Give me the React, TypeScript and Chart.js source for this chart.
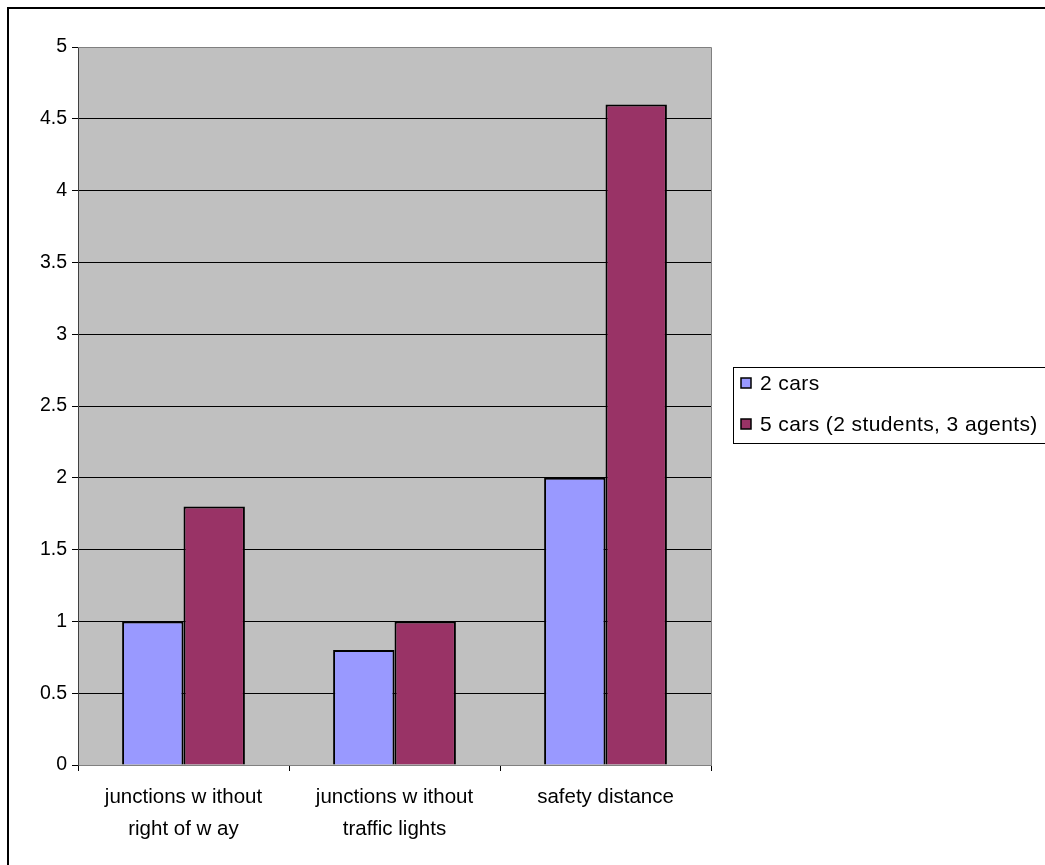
import React, { useEffect, useRef } from "react";
import { Chart, registerables } from "chart.js";

Chart.register(...registerables);

const categories: string[][] = [
  ["junctions w ithout", "right of w ay"],
  ["junctions w ithout", "traffic lights"],
  ["safety distance"],
];
const seriesNames = ["2 cars", "5 cars (2 students, 3 agents)"];
const twoCars = [1, 0.8, 2];
const fiveCars = [1.8, 1, 4.6];
const seriesColors = ["#9999FF", "#993366"];

const FONT = "'Liberation Sans', Arial, sans-serif";

const framePlugin = {
  id: "frameAndLegend",
  beforeDraw(chart: any) {
    const { ctx, chartArea } = chart;
    ctx.save();
    ctx.fillStyle = "#ffffff";
    ctx.fillRect(0, 0, chart.width, chart.height);
    ctx.fillStyle = "#C0C0C0";
    ctx.fillRect(chartArea.left, chartArea.top, chartArea.right - chartArea.left, chartArea.bottom - chartArea.top);
    ctx.restore();
  },
  afterDraw(chart: any) {
    const { ctx, chartArea } = chart;
    ctx.save();
    // plot border (right and top)
    ctx.strokeStyle = "#808080";
    ctx.lineWidth = 1;
    ctx.beginPath();
    ctx.moveTo(chartArea.left, chartArea.top + 0.5);
    ctx.lineTo(chartArea.right + 0.5, chartArea.top + 0.5);
    ctx.lineTo(chartArea.right + 0.5, chartArea.bottom);
    ctx.stroke();
    // outer frame
    ctx.strokeStyle = "#000000";
    ctx.lineWidth = 2;
    ctx.beginPath();
    ctx.moveTo(8, chart.height + 5);
    ctx.lineTo(8, 8);
    ctx.lineTo(chart.width + 5, 8);
    ctx.stroke();
    // legend
    ctx.lineWidth = 1;
    ctx.strokeRect(733.5, 367.5, 400, 76);
    const ys = [383, 424];
    chart.data.datasets.forEach((ds: any, i: number) => {
      ctx.fillStyle = ds.backgroundColor;
      ctx.fillRect(741, ys[i] - 5, 10, 10);
      ctx.strokeStyle = "#000";
      ctx.lineWidth = 1.5;
      ctx.strokeRect(741, ys[i] - 5, 10, 10);
      ctx.fillStyle = "#000";
      ctx.font = `21px ${FONT}`;
      (ctx as any).letterSpacing = "0.4px";
      ctx.textBaseline = "middle";
      ctx.textAlign = "left";
      ctx.fillText(ds.label, 760, ys[i] + 1);
      (ctx as any).letterSpacing = "0px";
    });
    ctx.restore();
  },
};

export default function App() {
  const ref = useRef<HTMLCanvasElement | null>(null);
  useEffect(() => {
    if (!ref.current) return;
    const chart = new Chart(ref.current, {
      type: "bar",
      data: {
        labels: categories,
        datasets: [
          {
            label: seriesNames[0],
            data: twoCars,
            backgroundColor: seriesColors[0],
            borderColor: "#000000",
            borderWidth: 2,
            categoryPercentage: 0.582,
            barPercentage: 1,
          },
          {
            label: seriesNames[1],
            data: fiveCars,
            backgroundColor: seriesColors[1],
            borderColor: "#000000",
            borderWidth: 2,
            categoryPercentage: 0.582,
            barPercentage: 1,
          },
        ],
      },
      options: {
        animation: false,
        responsive: false,
        layout: { padding: { left: 0, top: 47, right: 1045 - 711, bottom: 0 } },
        plugins: { legend: { display: false }, tooltip: { enabled: false } },
        scales: {
          x: {
            offset: true,
            grid: { display: true, drawOnChartArea: false, drawTicks: true, tickLength: 6, tickColor: "#000", offset: true },
            border: { display: true, color: "#808080", width: 1 },
            ticks: {
              color: "#000",
              font: { family: FONT, size: 20.5, lineHeight: 1.56 },
              padding: 10,
              maxRotation: 0,
              autoSkip: false,
            },
            afterFit(scale: any) {
              scale.height = 100;
            },
          },
          y: {
            min: 0,
            max: 5,
            ticks: {
              stepSize: 0.5,
              color: "#000",
              font: { family: FONT, size: 19.5 },
              padding: 5,
              callback: (v: any) => String(Number(v)),
            },
            grid: {
              color: (c: any) => (c.tick && c.tick.value === 5 ? "#808080" : "#000000"),
              tickColor: "#000",
              tickLength: 6,
              lineWidth: 1,
            },
            border: { display: true, color: "#404040", width: 1 },
            afterFit(scale: any) {
              scale.width = 78;
            },
          },
        },
      },
      plugins: [framePlugin],
    });
    return () => chart.destroy();
  }, []);
  return (
    <div style={{ position: "absolute", left: 0, top: 0, width: 1045, height: 865 }}>
      <canvas ref={ref} width={1045} height={865} style={{ display: "block" }} />
    </div>
  );
}
